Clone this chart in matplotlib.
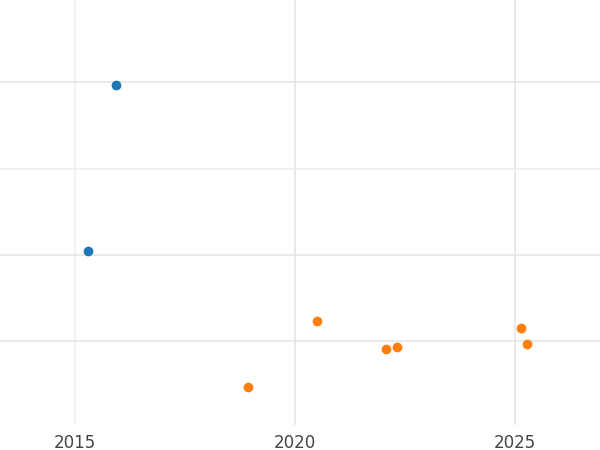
import matplotlib
matplotlib.use("Agg")
import matplotlib.pyplot as plt

# series data
blue_x = [2015.93, 2015.30]
blue_y = [2.97, 1.05]
orange_x = [2018.93, 2020.50, 2022.07, 2022.32, 2025.14, 2025.27]
orange_y = [-0.53, 0.24, -0.09, -0.06, 0.15, -0.03]
xticks = [2015, 2020, 2025]

fig = plt.figure(figsize=(6, 4.5), dpi=100)
ax = fig.add_axes([0, 0.055, 1, 0.945])

ax.set_xlim(2013.3, 2026.93)
ax.set_ylim(-0.97, 3.95)

# grid lines
for x in xticks:
    ax.axvline(x, color="#e6e6e6" if x != 2015 else "#f0f0f0", lw=1.2, zorder=0)
for y, c in [(0, "#e6e6e6"), (1, "#e6e6e6"), (2, "#f0f0f0"), (3, "#e6e6e6")]:
    ax.axhline(y, color=c, lw=1.2, zorder=0)

ax.scatter(blue_x, blue_y, color="#1f77b4", s=36, zorder=3)
ax.scatter(orange_x, orange_y, color="#ff7f0e", s=36, zorder=3)

ax.set_xticks(xticks)
ax.set_xticklabels([str(x) for x in xticks], fontsize=12, color="#444444")
ax.set_yticks([])
ax.tick_params(axis="x", length=0, pad=6)
for s in ax.spines.values():
    s.set_visible(False)

fig.savefig("out.png", dpi=100)
